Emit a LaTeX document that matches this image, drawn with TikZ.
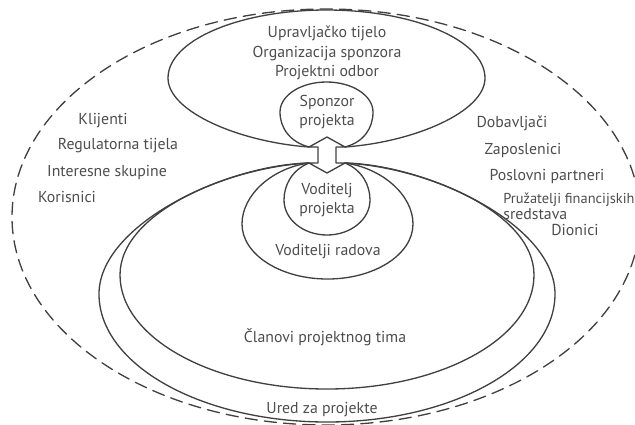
\documentclass[tikz,border=0pt]{standalone}
\usepackage{fontspec}
\setmainfont{PT Sans}
\definecolor{ink}{HTML}{404040}
\definecolor{txt}{HTML}{4D4D4D}

\begin{document}
\begin{tikzpicture}[x=0.02cm, y=-0.02cm,
                    line cap=round, line join=round,
                    zone/.style={draw=ink, line width=0.75pt},
                    outer/.style={draw=ink, line width=0.75pt, dash pattern=on 7pt off 4pt},
                    lbl/.style={text=txt, font=\fontsize{9}{11}\selectfont, inner sep=0pt, align=center}]
  \useasboundingbox (0,0) rectangle (635,424);

  % outer boundary
  \draw[outer] (326,217) ellipse [x radius=314, y radius=208];

  % upper zones
  \draw[zone] (309,147) .. controls (240,142) and (168,112) .. (168,78)
    arc[start angle=180, end angle=360, x radius=158.5, y radius=68]
    .. controls (485,112) and (414,142) .. (345,147);
  \draw[zone] (309,147) .. controls (290,142) and (280,128) .. (280,112)
    arc[start angle=180, end angle=360, x radius=46.5, y radius=30]
    .. controls (373,128) and (364,142) .. (345,147);

  % lower zones
  \draw[zone] (309,163) .. controls (225,165) and (99,225) .. (99,294)
    arc[start angle=180, end angle=0, x radius=228, y radius=128]
    .. controls (555,225) and (429,165) .. (345,163);
  \draw[zone] (309,163) .. controls (230,167) and (120,212) .. (120,275)
    arc[start angle=180, end angle=0, x radius=207, y radius=114]
    .. controls (534,212) and (424,167) .. (345,163);
  \draw[zone] (309,163) .. controls (272,168) and (242,195) .. (242,224)
    arc[start angle=180, end angle=0, x radius=85.5, y radius=55]
    .. controls (413,195) and (382,168) .. (345,163);
  \draw[zone] (309,163) .. controls (292,170) and (284,185) .. (284,200)
    arc[start angle=180, end angle=0, x radius=43, y radius=35]
    .. controls (370,185) and (362,170) .. (345,163);

  % double arrow
  \filldraw[zone, fill=white] (327,137) -- (345,147) -- (336,147) -- (336,163)
    -- (345,163) -- (327,173) -- (309,163) -- (318,163) -- (318,147)
    -- (309,147) -- cycle;

  % inner labels
  \node[lbl] (upravljanje) at (327,53) {Upravljačko tijelo\\Organizacija sponzora\\Projektni odbor};
  \node[lbl] (sponzor) at (327,112) {Sponzor\\projekta};
  \node[lbl] (voditelj) at (327,200) {Voditelj\\projekta};
  \node[lbl] (radovi) at (328,252) {Voditelji radova};
  \node[lbl] (clanovi) at (325,337) {Članovi projektnog tima};
  \node[lbl] (ured) at (322,410) {Ured za projekte};

  % stakeholders left
  \node[lbl] (klijenti) at (103,121) {Klijenti};
  \node[lbl] (regulatori) at (118,146) {Regulatorna tijela};
  \node[lbl] (interesne) at (107,172) {Interesne skupine};
  \node[lbl] (korisnici) at (67,197) {Korisnici};

  % stakeholders right
  \node[lbl] (dobavljaci) at (512,123) {Dobavljači};
  \node[lbl] (zaposlenici) at (523,150) {Zaposlenici};
  \node[lbl] (partneri) at (547,176) {Poslovni partneri};
  \node[lbl, align=left, anchor=north west, font=\fontsize{9}{8}\selectfont]
    (financijeri) at (503,193) {{\fontsize{8.2}{8}\selectfont Pružatelji financijskih}\\sredstava};
  \node[lbl] (dionici) at (575,230) {Dionici};
\end{tikzpicture}
\end{document}
